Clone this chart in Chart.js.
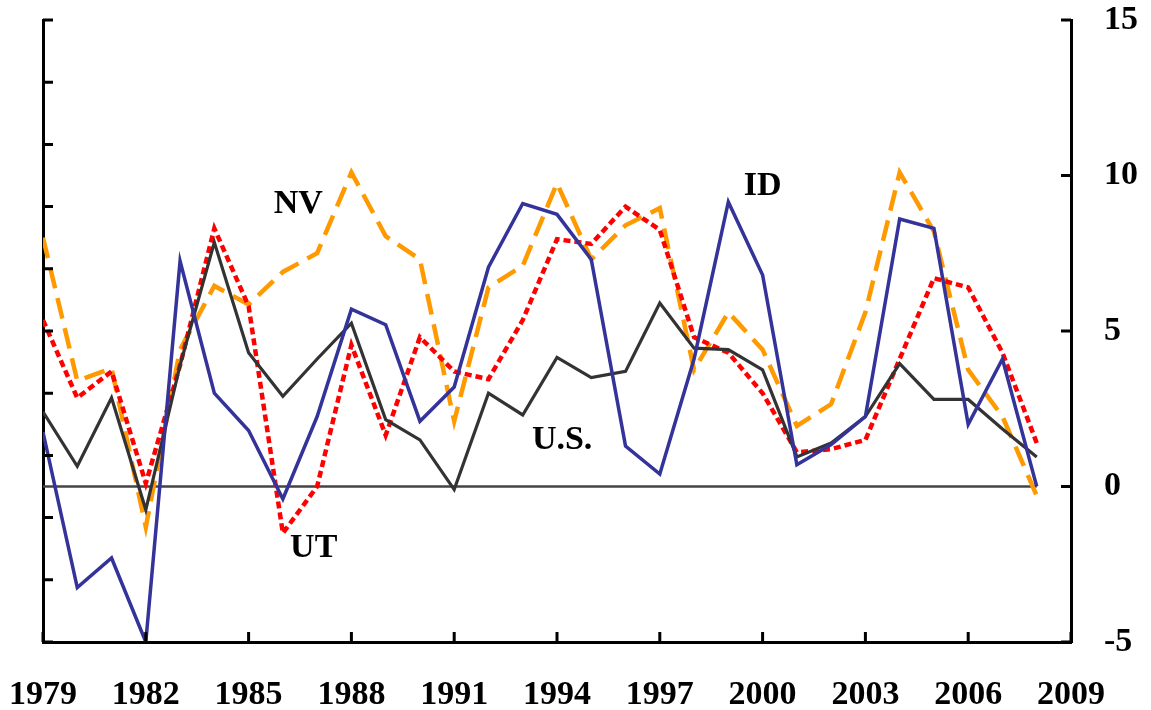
<!DOCTYPE html>
<html lang="en">
<head>
<meta charset="UTF-8">
<title>Growth: ID, NV, UT, U.S.</title>
<script src="https://cdn.jsdelivr.net/npm/chart.js@4.4.1/dist/chart.umd.min.js"></script>
<style>
    html, body { margin: 0; padding: 0; background: #fff; }
</style>
</head>
<body>
<canvas id="growthChart" width="1151" height="710"></canvas>
<script>
// years 1979 - 2008
var years = [1979,1980,1981,1982,1983,1984,1985,1986,1987,1988,
             1989,1990,1991,1992,1993,1994,1995,1996,1997,1998,
             1999,2000,2001,2002,2003,2004,2005,2006,2007,2008];

var usValues = [2.4, 0.65, 2.85, -0.75, 3.9, 7.85, 4.3, 2.9, 4.1, 5.25,
                2.15, 1.5, -0.1, 3.0, 2.3, 4.15, 3.5, 3.7, 5.9, 4.45,
                4.4, 3.75, 0.95, 1.4, 2.25, 3.95, 2.8, 2.8, 1.85, 0.95];

var idValues = [1.75, -3.25, -2.3, -5.0, 7.25, 3.0, 1.8, -0.4, 2.25, 5.7,
                5.2, 2.1, 3.2, 7.05, 9.1, 8.75, 7.3, 1.3, 0.4, 4.1,
                9.15, 6.8, 0.7, 1.35, 2.25, 8.6, 8.3, 2.0, 4.1, 0.0];

var utValues = [5.35, 2.85, 3.7, 0.1, 3.9, 8.3, 5.8, -1.5, 0.0, 4.55,
                1.65, 4.8, 3.7, 3.45, 5.35, 7.95, 7.8, 9.0, 8.25, 4.8,
                4.3, 3.0, 1.1, 1.2, 1.5, 4.1, 6.7, 6.4, 4.3, 1.4];

var nvValues = [8.0, 3.4, 3.8, -1.3, 4.4, 6.45, 5.85, 6.9, 7.5, 10.1,
                8.05, 7.3, 2.1, 6.4, 7.1, 9.75, 7.3, 8.4, 8.95, 3.75,
                5.6, 4.4, 1.95, 2.65, 5.6, 10.1, 8.2, 3.75, 2.25, -0.3];

var zeroValues = [0,0,0,0,0,0,0,0,0,0, 0,0,0,0,0,0,0,0,0,0, 0,0,0,0,0,0,0,0,0,0];

var xTickYears = [1979, 1982, 1985, 1988, 1991, 1994, 1997, 2000, 2003, 2006, 2009];
var rightTicks = [-5, 0, 5, 10, 15];
var leftTicks = [-5, -3, -1, 1, 3, 5, 7, 9, 11, 13, 15];

// series name labels placed in data coordinates
var seriesLabels = [
    { text: 'NV',   x: 1986.45, y: 9.07 },
    { text: 'ID',   x: 2000.0,  y: 9.65 },
    { text: 'U.S.', x: 1994.15, y: 1.5 },
    { text: 'UT',   x: 1986.9,  y: -1.98 }
];

function pts(vals) {
    var out = [];
    for (var i = 0; i < years.length; i++) {
        out.push({ x: years[i], y: vals[i] });
    }
    return out;
}

function asTicks(list) {
    return list.map(function (v) { return { value: v }; });
}

// fixed box sizes so the plot area lands where the original has it
function fixBox(w, h) {
    return function (s) {
        if (w !== null) s.width = w;
        if (h !== null) s.height = h;
        s.paddingLeft = 0;
        s.paddingRight = 0;
        s.paddingTop = 0;
        s.paddingBottom = 0;
    };
}

var serif = "'Liberation Serif', 'Times New Roman', serif";

// tick marks pointing into the plot, plus the series names
var inwardTicks = {
    id: 'inwardTicks',
    afterDraw: function (chart) {
        var ctx = chart.ctx, area = chart.chartArea, len = 10;
        var sx = chart.scales.x, sl = chart.scales.yLeft, sr = chart.scales.y;
        ctx.save();
        ctx.strokeStyle = '#000';
        ctx.lineWidth = 3;
        ctx.beginPath();
        sl.ticks.forEach(function (t) {
            var py = sl.getPixelForValue(t.value);
            ctx.moveTo(area.left, py);
            ctx.lineTo(area.left + len, py);
        });
        sr.ticks.forEach(function (t) {
            var py = sr.getPixelForValue(t.value);
            ctx.moveTo(area.right, py);
            ctx.lineTo(area.right - len, py);
        });
        sx.ticks.forEach(function (t) {
            var px = sx.getPixelForValue(t.value);
            ctx.moveTo(px, area.bottom);
            ctx.lineTo(px, area.bottom - len);
        });
        ctx.stroke();

        ctx.fillStyle = '#000';
        ctx.font = 'bold 34px ' + serif;
        ctx.textAlign = 'center';
        ctx.textBaseline = 'middle';
        seriesLabels.forEach(function (l) {
            ctx.fillText(l.text, sx.getPixelForValue(l.x), sr.getPixelForValue(l.y));
        });
        ctx.restore();
    }
};

var ctx = document.getElementById('growthChart');
var chart = new Chart(ctx, {
    type: 'line',
    data: {
        datasets: [
            { label: 'ID', data: pts(idValues), borderColor: '#333399', borderWidth: 3.5, order: 1 },
            { label: 'U.S.', data: pts(usValues), borderColor: '#333333', borderWidth: 3.2, order: 2 },
            { label: 'UT', data: pts(utValues), borderColor: '#ff0000', borderWidth: 4.5, borderDash: [7, 4], order: 3 },
            { label: 'NV', data: pts(nvValues), borderColor: '#ff9900', borderWidth: 4.5, borderDash: [21, 10], order: 4 },
            { label: 'zero', data: pts(zeroValues), borderColor: '#444444', borderWidth: 2.5, order: 5 }
        ]
    },
    options: {
        responsive: false,
        animation: false,
        devicePixelRatio: 1,
        layout: { padding: { top: 20, left: 0, right: 0, bottom: 0 } },
        elements: {
            point: { radius: 0, hoverRadius: 0 },
            line: { tension: 0, fill: false, borderCapStyle: 'butt', borderJoinStyle: 'miter' }
        },
        plugins: {
            legend: { display: false },
            tooltip: { enabled: false }
        },
        scales: {
            x: {
                type: 'linear',
                position: 'bottom',
                min: 1979,
                max: 2009,
                afterBuildTicks: function (s) { s.ticks = asTicks(xTickYears); },
                afterFit: fixBox(null, 68),
                grid: { display: false },
                border: { display: true, color: '#000', width: 3 },
                ticks: {
                    color: '#000',
                    padding: 25,
                    maxRotation: 0,
                    autoSkip: false,
                    font: { family: serif, size: 34, weight: 'bold' },
                    callback: function (v) { return String(v); }
                }
            },
            yLeft: {
                type: 'linear',
                position: 'left',
                min: -5,
                max: 15,
                afterBuildTicks: function (s) { s.ticks = asTicks(leftTicks); },
                afterFit: fixBox(43, null),
                grid: { display: false },
                border: { display: true, color: '#000', width: 3 },
                ticks: { display: false }
            },
            y: {
                type: 'linear',
                position: 'right',
                min: -5,
                max: 15,
                afterBuildTicks: function (s) { s.ticks = asTicks(rightTicks); },
                afterFit: fixBox(80, null),
                grid: { display: false },
                border: { display: true, color: '#000', width: 3 },
                ticks: {
                    color: '#000',
                    padding: 25,
                    font: { family: serif, size: 34, weight: 'bold' }
                }
            }
        }
    },
    plugins: [inwardTicks]
});
</script>
</body>
</html>
